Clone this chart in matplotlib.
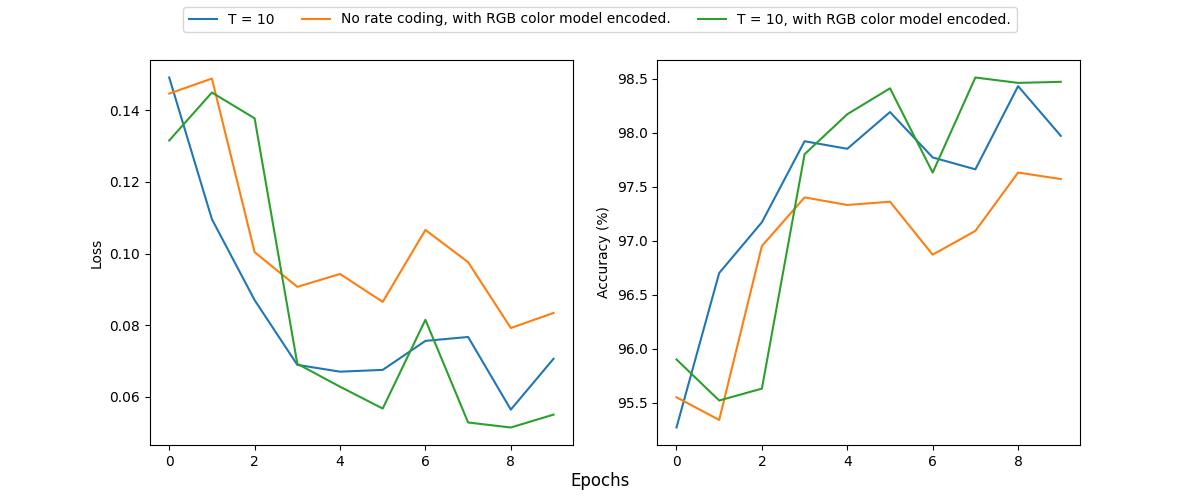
import numpy as np
import matplotlib
matplotlib.use('Agg')
import matplotlib.pyplot as plt

#epochs and series labels
epochs = np.arange(10)
labels = ['T = 10', 'No rate coding, with RGB color model encoded.', 'T = 10, with RGB color model encoded.']

#loss values
loss_t10 = [0.1492, 0.1096, 0.0870, 0.0689, 0.0670, 0.0675, 0.0756, 0.0767, 0.0564, 0.0706]
loss_rgb = [0.1447, 0.1489, 0.1004, 0.0907, 0.0943, 0.0865, 0.1066, 0.0976, 0.0792, 0.0834]
loss_t10_rgb = [0.1316, 0.1450, 0.1378, 0.0692, 0.0628, 0.0567, 0.0815, 0.0528, 0.0514, 0.0550]

#accuracy values
acc_t10 = [95.27, 96.70, 97.17, 97.92, 97.85, 98.19, 97.77, 97.66, 98.43, 97.97]
acc_rgb = [95.55, 95.34, 96.95, 97.40, 97.33, 97.36, 96.87, 97.09, 97.63, 97.57]
acc_t10_rgb = [95.90, 95.52, 95.63, 97.80, 98.17, 98.41, 97.63, 98.51, 98.46, 98.47]

fig, (ax1, ax2) = plt.subplots(1, 2, figsize=(12, 5), dpi=100)

#loss plot
for vals, lab in zip([loss_t10, loss_rgb, loss_t10_rgb], labels):
  ax1.plot(epochs, vals, label=lab)
ax1.set_ylabel('Loss')

#accuracy plot
for vals in [acc_t10, acc_rgb, acc_t10_rgb]:
  ax2.plot(epochs, vals)
ax2.set_ylabel('Accuracy (%)')

fig.supxlabel('Epochs', y=0.02)
fig.legend(loc='upper center', ncol=3, bbox_to_anchor=(0.5, 1.0))

plt.savefig('out.png')
